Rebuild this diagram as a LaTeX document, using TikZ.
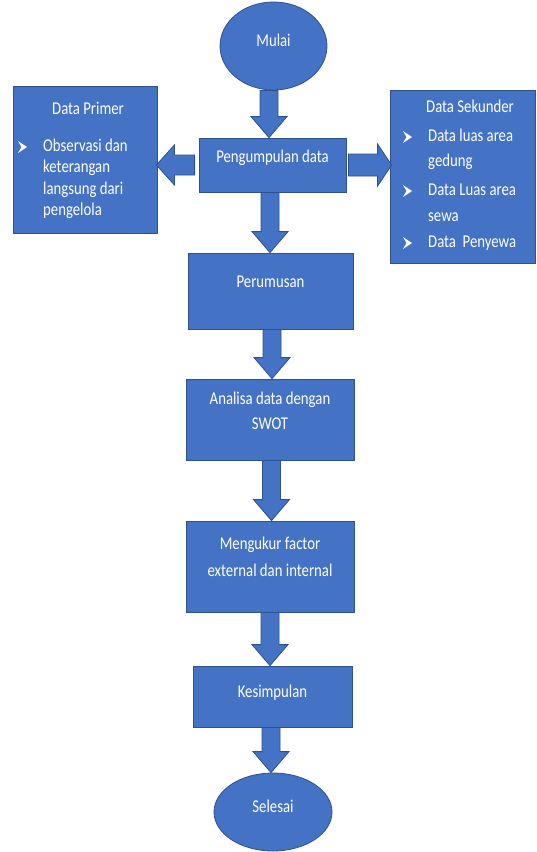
\documentclass[tikz,border=0pt]{standalone}
\usepackage{fontspec}
\setmainfont{Carlito}[FakeStretch=0.82]
\usetikzlibrary{calc,shapes.geometric}
\definecolor{bfill}{HTML}{4472C4}
\definecolor{bline}{HTML}{2F528F}
\newcommand\chev[2]{\fill[white] (#1-4.5,#2-6) -- (#1+4.5,#2) -- (#1-4.5,#2+6) -- (#1-1,#2) -- cycle;}
% vertical block arrow: from node #1 to node #2 at pixel x #3
\newcommand\vbarrow[3]{%
  \draw[barrow] let \p1=(#1.south), \p2=(#2.north) in
    (#3pt-9pt,\y1) -- (#3pt+9pt,\y1) -- (#3pt+9pt,\y2+21pt) -- (#3pt+18pt,\y2+21pt)
    -- (#3pt,\y2) -- (#3pt-18pt,\y2+21pt) -- (#3pt-9pt,\y2+21pt) -- cycle;}
\begin{document}
\begin{tikzpicture}[x=1pt,y=-1pt,
  box/.style={draw=bline, fill=bfill, line width=0.8pt, inner sep=0pt, rectangle},
  oval/.style={draw=bline, fill=bfill, line width=0.8pt, ellipse, inner sep=0pt},
  txt/.style={text=white, font=\fontsize{18}{25}\selectfont, inner sep=0pt, text height=12pt, text depth=4pt},
  barrow/.style={draw=bline, fill=bfill, line width=0.8pt, line join=miter}]
\useasboundingbox (0,0) rectangle (536,852);
\fill[white] (0,0) rectangle (536,852);

% shapes
\node[oval, minimum width=107pt, minimum height=88pt] (mulai) at (273.5,46) {};
\node[box, minimum width=147pt, minimum height=54pt] (peng) at (272.5,165) {};
\node[box, minimum width=165pt, minimum height=76pt] (perum) at (270.5,291) {};
\node[box, minimum width=168pt, minimum height=81pt] (anal) at (270,419.5) {};
\node[box, minimum width=168pt, minimum height=91pt] (meng) at (270,566.5) {};
\node[box, minimum width=159pt, minimum height=61pt] (kes) at (272.5,696.5) {};
\node[oval, minimum width=118pt, minimum height=78pt] (sel) at (273,812) {};
\node[box, minimum width=144pt, minimum height=147pt] (primer) at (85,159.5) {};
\node[box, minimum width=145pt, minimum height=173pt] (sekunder) at (462.5,176.5) {};

% block arrows
\vbarrow{mulai}{peng}{269}
\vbarrow{peng}{perum}{270}
\vbarrow{perum}{anal}{272}
\vbarrow{anal}{meng}{271.5}
\vbarrow{meng}{kes}{270}
\vbarrow{kes}{sel}{271}
\draw[barrow] let \p1=(peng.west), \p2=(primer.east) in
  (\x1-4pt,\y1+10pt) -- (\x2+17pt,\y1+10pt) -- (\x2+17pt,\y1+20pt) -- (\x2-1pt,\y1)
  -- (\x2+17pt,\y1-20pt) -- (\x2+17pt,\y1-10pt) -- (\x1-4pt,\y1-10pt) -- cycle;
\draw[barrow] let \p1=(peng.east), \p2=(sekunder.west) in
  (\x1+2pt,\y1+11pt) -- (\x2-12pt,\y1+11pt) -- (\x2-12pt,\y1+21pt) -- (\x2+2pt,\y1)
  -- (\x2-12pt,\y1-21pt) -- (\x2-12pt,\y1-11pt) -- (\x1+2pt,\y1-11pt) -- cycle;

% texts
\node[txt] (tmulai) at (273.5,42) {Mulai};
\node[txt] (tpeng) at (272.5,158) {Pengumpulan data};
\node[txt] (tperum) at (270.5,283) {Perumusan};
\node[txt] (tanal1) at (270,400) {Analisa data dengan};
\node[txt] (tanal2) at (270,425) {SWOT};
\node[txt] (tmeng1) at (270,545) {Mengukur factor};
\node[txt] (tmeng2) at (270,572) {external dan internal};
\node[txt] (tkes) at (272.5,693) {Kesimpulan};
\node[txt] (tsel) at (273,808) {Selesai};

\node[txt] (tprim) at (88,110) {Data Primer};
\chev{22.5}{147}
\node[txt, anchor=west] (tp1) at (43,147) {Observasi dan};
\node[txt, anchor=west] (tp2) at (43,168) {keterangan};
\node[txt, anchor=west] (tp3) at (43,190) {langsung dari};
\node[txt, anchor=west] (tp4) at (43,211) {pengelola};

\node[txt] (tsek) at (470,108) {Data Sekunder};
\chev{407.5}{137}
\node[txt, anchor=west] (ts1) at (428,137) {Data luas area};
\node[txt, anchor=west] (ts2) at (428,162) {gedung};
\chev{407.5}{191}
\node[txt, anchor=west] (ts3) at (428,191) {Data Luas area};
\node[txt, anchor=west] (ts4) at (428,217) {sewa};
\chev{407.5}{243}
\node[txt, anchor=west] (ts5) at (428,243) {Data\ \ Penyewa};
\end{tikzpicture}
\end{document}
